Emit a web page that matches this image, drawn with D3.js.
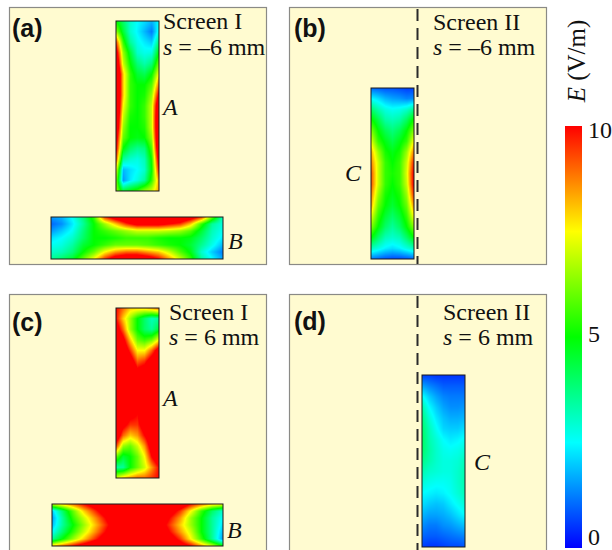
<!DOCTYPE html>
<html><head><meta charset="utf-8">
<script src="https://cdn.jsdelivr.net/npm/d3@7"></script>
<style>body{margin:0;background:#fff} svg{display:block}</style>
</head><body><svg id="chart" width="612" height="550"></svg>
<script>
// ---------- data ----------
const colorDomain = [0, 10];
const colorTicks = [0, 5, 10];
const panelLabels = ["(a)", "(b)", "(c)", "(d)"];
const screenNames = ["Screen I", "Screen II", "Screen I", "Screen II"];
const shiftValues = ["\u20136", "\u20136", "6", "6"];
const conductorNames = ["A", "B", "C"];

// E-field magnitude (V/m) on sample grids, rows top->bottom, cols left->right
const fieldA_a = [
  [5, 4, 3, 2.5, 2.2, 1.8, 2.5],
  [6.5, 4.5, 3, 2.4, 1.8, 1.2, 2.8],
  [9.5, 5.5, 3.5, 2.7, 2.3, 2, 3.8],
  [11, 6.5, 4.5, 3, 2.7, 2.8, 5],
  [12, 7, 5, 3.8, 3.3, 3.8, 6.2],
  [13, 8, 5.5, 4.5, 4.2, 5, 7.5],
  [13, 8, 5.5, 5, 5, 5.8, 9],
  [13, 8, 5.5, 5, 5.2, 6.5, 10.5],
  [13, 7.5, 5.5, 5, 5.5, 7, 12],
  [12.5, 7, 5.2, 5, 5.5, 7, 12.5],
  [12, 6.5, 5, 5, 5.3, 7, 12.5],
  [11, 6, 5, 4.8, 5, 6.5, 12.5],
  [10.5, 5, 4, 3.6, 3.8, 5.8, 12],
  [9.5, 3.5, 3, 2.8, 3.2, 5.2, 11],
  [7.5, 1.8, 2.2, 2.5, 3, 5, 10],
  [6.5, 1.5, 2.3, 2.8, 3.5, 5.5, 8.5],
  [6.5, 4.5, 5, 5.5, 6.5, 7, 8.5]
];
const fieldB_a = [
  [1.5, 1.8, 2.6, 3.8, 5.5, 9.5, 11, 12, 13, 13, 13, 12.5, 12, 11, 9.5, 6, 3],
  [1, 1.4, 2.3, 3.5, 5, 6.5, 8, 9.5, 10.5, 10.5, 10.5, 10, 9.5, 8, 5.5, 3.5, 2.8],
  [1.5, 2, 2.6, 3.8, 5, 5.5, 6, 6.5, 7, 7, 7, 6.8, 6.5, 5.8, 4.5, 3.2, 2.6],
  [2.2, 2.5, 3, 4, 5, 5, 5.2, 5.5, 5.5, 5.5, 5.2, 5, 5, 4.8, 4, 3, 2.3],
  [2.6, 2.8, 3.4, 4.5, 5, 5.5, 6, 6, 6, 5.8, 5.5, 5.2, 5, 4.5, 3.6, 2.7, 1.8],
  [3, 3.2, 3.8, 5, 6, 7.5, 8.5, 9, 9, 8.5, 8, 7, 5.8, 4.8, 3, 2, 1.2],
  [3.5, 4, 4.6, 6, 7.5, 9.5, 11, 11.5, 11.5, 11, 10, 8.5, 7, 5.5, 3.5, 2.5, 1.6]
];
const fieldC_b = [
  [1, 0.9, 0.8, 0.8, 0.7, 0.6, 0.6],
  [2.5, 2.2, 1.8, 1.6, 1.5, 1.3, 1.4],
  [4, 3.3, 2.8, 2.6, 2.7, 3, 3.6],
  [5.2, 4.3, 3.4, 3.2, 3.4, 4.1, 5.2],
  [6.3, 5, 4.2, 3.8, 4.2, 5, 6.3],
  [7.3, 5.5, 4.8, 4.3, 4.8, 5.5, 7.5],
  [8.3, 6.5, 5.2, 4.8, 5.2, 6.5, 8.8],
  [8.8, 7, 5.5, 5, 5.5, 7, 9.8],
  [9.3, 7, 5.5, 5.2, 5.5, 7.2, 10.3],
  [9.3, 7, 5.5, 5, 5.5, 7, 10.3],
  [8.8, 6.5, 5.2, 4.8, 5.2, 6.5, 9.6],
  [8.3, 6, 5, 4.5, 5, 6, 8.6],
  [7.3, 5.5, 4.5, 4, 4.5, 5.5, 7.5],
  [6.3, 5, 4, 3.5, 4, 5, 6.3],
  [5, 4, 3.2, 3, 3.2, 4, 5],
  [3.2, 2.8, 2.4, 2.2, 2.4, 2.8, 3.2],
  [1.2, 1, 0.8, 0.7, 0.7, 0.8, 1]
];
const fieldA_c = [
  [10, 9, 8, 8, 8, 8.5, 9],
  [10, 8, 6.5, 5, 4, 3.2, 3.5],
  [11, 9, 6.5, 5, 4, 3.5, 4.5],
  [12, 10.5, 8, 6, 5.5, 6, 7.5],
  [12, 11.5, 9.5, 7.5, 7.5, 9, 11],
  [12, 12, 11, 9, 9.5, 11, 12],
  [12, 12, 12, 10.5, 11, 12, 12],
  [12, 12, 12, 11.5, 12, 12, 12],
  [12, 12, 12, 11.5, 12, 12, 12],
  [12, 12, 11.5, 11, 12, 12, 12],
  [12, 11.5, 10.5, 10, 11.5, 12, 12],
  [12, 10.5, 9.5, 9.5, 11, 12, 12],
  [11.5, 9, 8, 8.5, 10, 11.5, 12],
  [9.5, 6.5, 6, 7, 8.5, 11, 12],
  [6, 4.5, 5, 6, 7.5, 10, 11.5],
  [3.5, 3.5, 5, 6, 7, 8.5, 10],
  [7, 8, 8.5, 9, 9, 9.5, 10]
];
const fieldB_c = [
  [7, 8, 9, 10, 11, 12, 12, 12, 12, 12, 12, 12, 11.5, 10, 9, 8, 7.5],
  [2, 4, 6, 8, 9.5, 11, 12, 12, 12, 12, 12, 11, 9.5, 7.5, 5.5, 4, 3],
  [1.5, 3.5, 5.5, 7, 8.5, 10, 11.5, 12, 12, 12, 11.5, 10, 8.5, 6.5, 5, 3.5, 2.5],
  [1.8, 3.5, 5, 6.5, 8, 9.5, 11, 12, 12, 12, 11, 9.5, 8, 6.5, 5, 3.5, 2.2],
  [2.5, 4, 5.5, 7, 8.5, 10, 11.5, 12, 12, 12, 11.5, 10, 8.5, 7, 5, 3.5, 1.8],
  [3.5, 5, 6.5, 8, 9.5, 11, 12, 12, 12, 12, 12, 11, 9.5, 7.5, 5.5, 3.5, 1.5],
  [8, 9, 10, 11, 12, 12, 12, 12, 12, 12, 12, 12, 11, 10, 8.5, 7, 5]
];
const fieldC_d = [
  [0.6, 0.6, 0.5, 0.5, 0.5, 0.5, 0.5],
  [1.6, 1.3, 1.1, 0.9, 0.9, 0.9, 0.9],
  [2.6, 2, 1.6, 1.3, 1.2, 1.2, 1.2],
  [3.4, 2.5, 2, 1.6, 1.4, 1.4, 1.5],
  [3.8, 2.9, 2.3, 1.9, 1.7, 1.7, 1.8],
  [4, 3.2, 2.6, 2.1, 2, 2, 2.2],
  [4.1, 3.3, 2.9, 2.5, 2.3, 2.4, 2.6],
  [4, 3.4, 3, 2.7, 2.6, 2.7, 2.9],
  [3.7, 3.3, 3, 2.8, 2.8, 2.9, 3.2],
  [3.3, 3, 2.9, 2.8, 2.8, 3, 3.3],
  [2.9, 2.7, 2.6, 2.6, 2.7, 3, 3.3],
  [2.5, 2.4, 2.3, 2.4, 2.6, 2.9, 3.2],
  [2.2, 2, 1.9, 2, 2.3, 2.6, 2.9],
  [1.8, 1.6, 1.6, 1.7, 1.9, 2.2, 2.5],
  [1.4, 1.2, 1.2, 1.4, 1.5, 1.7, 1.9],
  [1, 0.9, 0.9, 1, 1.1, 1.2, 1.3],
  [0.6, 0.5, 0.5, 0.6, 0.7, 0.7, 0.8]
];

// ---------- drawing ----------
const svg = d3.select("#chart");
const serif = "'Liberation Serif','Times New Roman',serif";
const sans = "'Liberation Sans',Arial,sans-serif";
const color = d3.scaleSequential(t => d3.hsl(240 * (1 - t), 1, 0.5).toString())
  .domain(colorDomain).clamp(true);

const panels = [
  {x: 9, y: 7, w: 257, h: 257},
  {x: 289, y: 7, w: 257, h: 257},
  {x: 9, y: 294, w: 257, h: 262},
  {x: 289, y: 294, w: 257, h: 262}
];
panels.forEach(p => {
  svg.append("rect").attr("x", p.x + 0.5).attr("y", p.y + 0.5)
    .attr("width", p.w).attr("height", p.h)
    .attr("fill", "#FFFBD0").attr("stroke", "#8a8a86").attr("stroke-width", 1.2);
});

function drawField(grid, x0, y0, w, h) {
  const rows = grid.length, cols = grid[0].length;
  const sx = d3.scaleLinear().domain([0, w]).range([0, cols - 1]);
  const sy = d3.scaleLinear().domain([0, h]).range([0, rows - 1]);
  const cv = document.createElement("canvas");
  cv.width = w; cv.height = h;
  const ctx = cv.getContext("2d");
  const img = ctx.createImageData(w, h);
  for (let py = 0; py < h; py++) {
    for (let px = 0; px < w; px++) {
      const fx = sx(px + 0.5), fy = sy(py + 0.5);
      const i0 = Math.max(0, Math.min(Math.floor(fx), cols - 2));
      const j0 = Math.max(0, Math.min(Math.floor(fy), rows - 2));
      const tx = fx - i0, ty = fy - j0;
      const v = (grid[j0][i0] * (1 - tx) + grid[j0][i0 + 1] * tx) * (1 - ty)
              + (grid[j0 + 1][i0] * (1 - tx) + grid[j0 + 1][i0 + 1] * tx) * ty;
      const c = d3.rgb(color(v));
      const k = (py * w + px) * 4;
      img.data[k] = c.r; img.data[k + 1] = c.g; img.data[k + 2] = c.b; img.data[k + 3] = 255;
    }
  }
  ctx.putImageData(img, 0, 0);
  svg.append("image").attr("x", x0).attr("y", y0).attr("width", w).attr("height", h)
    .attr("preserveAspectRatio", "none").attr("href", cv.toDataURL());
  svg.append("rect").attr("x", x0).attr("y", y0).attr("width", w).attr("height", h)
    .attr("fill", "none").attr("stroke", "#1a1a1a").attr("stroke-width", 1);
}

drawField(fieldA_a, 116, 21, 43, 170);
drawField(fieldB_a, 51, 217, 172, 42);
drawField(fieldC_b, 371, 88, 43, 171);
drawField(fieldA_c, 116, 308, 43, 170);
drawField(fieldB_c, 52, 504, 171, 42);
drawField(fieldC_d, 422, 375, 43, 172);

// dashed screen lines
[[7, 264], [294, 550]].forEach(([a, b]) => {
  svg.append("line").attr("x1", 417.5).attr("x2", 417.5).attr("y1", a + 2).attr("y2", b)
    .attr("stroke", "#2a2a2a").attr("stroke-width", 2).attr("stroke-dasharray", "12,7");
});

// panel labels
const labelPos = [[12, 37], [294, 37], [12, 331], [294, 330]];
panelLabels.forEach((t, i) => {
  svg.append("text").attr("x", labelPos[i][0]).attr("y", labelPos[i][1])
    .attr("font-family", sans).attr("font-weight", "bold").attr("font-size", 25)
    .attr("fill", "#111").text(t);
});

// screen text
const scrPos = [[163, 29, 55], [433, 30, 55], [169, 320, 345], [443, 320, 345]];
screenNames.forEach((t, i) => {
  const [x, y1, y2] = scrPos[i];
  svg.append("text").attr("x", x).attr("y", y1).attr("font-family", serif)
    .attr("font-size", 24).attr("fill", "#111").text(t);
  const t2 = svg.append("text").attr("x", x).attr("y", y2).attr("font-family", serif)
    .attr("font-size", 24).attr("fill", "#111");
  t2.append("tspan").attr("font-style", "italic").text("s");
  t2.append("tspan").text(" = " + shiftValues[i] + " mm");
});

// conductor labels
const condPos = [[0, 163, 115], [1, 228, 249], [2, 345, 181], [0, 163, 406], [1, 227, 538], [2, 474, 470]];
condPos.forEach(([k, x, y]) => {
  svg.append("text").attr("x", x).attr("y", y).attr("font-family", serif)
    .attr("font-style", "italic").attr("font-size", 24).attr("fill", "#111")
    .text(conductorNames[k]);
});

// colorbar
const cb = {x: 565, y: 126, w: 17, h: 422};
const defs = svg.append("defs");
const grad = defs.append("linearGradient").attr("id", "cbgrad")
  .attr("x1", 0).attr("y1", 1).attr("x2", 0).attr("y2", 0);
d3.range(0, 1.0001, 0.05).forEach(t => {
  grad.append("stop").attr("offset", t).attr("stop-color", color(colorDomain[0] + t * (colorDomain[1] - colorDomain[0])));
});
svg.append("rect").attr("x", cb.x).attr("y", cb.y).attr("width", cb.w).attr("height", cb.h)
  .attr("fill", "url(#cbgrad)");
const labelScale = d3.scaleLinear().domain(colorDomain).range([537, 130]);
const ax = svg.append("g").attr("transform", `translate(${cb.x + cb.w},0)`)
  .call(d3.axisRight(labelScale).tickValues(colorTicks).tickSize(0).tickPadding(6).tickFormat(d3.format("d")));
ax.select(".domain").remove();
ax.selectAll("text").attr("font-family", serif).attr("font-size", 24).attr("fill", "#111");

const et = svg.append("text").attr("transform", "translate(585,61) rotate(-90)")
  .attr("text-anchor", "middle").attr("font-family", serif).attr("font-size", 25).attr("fill", "#111");
et.append("tspan").attr("font-style", "italic").text("E");
et.append("tspan").text(" (V/m)");
</script>
</body></html>
